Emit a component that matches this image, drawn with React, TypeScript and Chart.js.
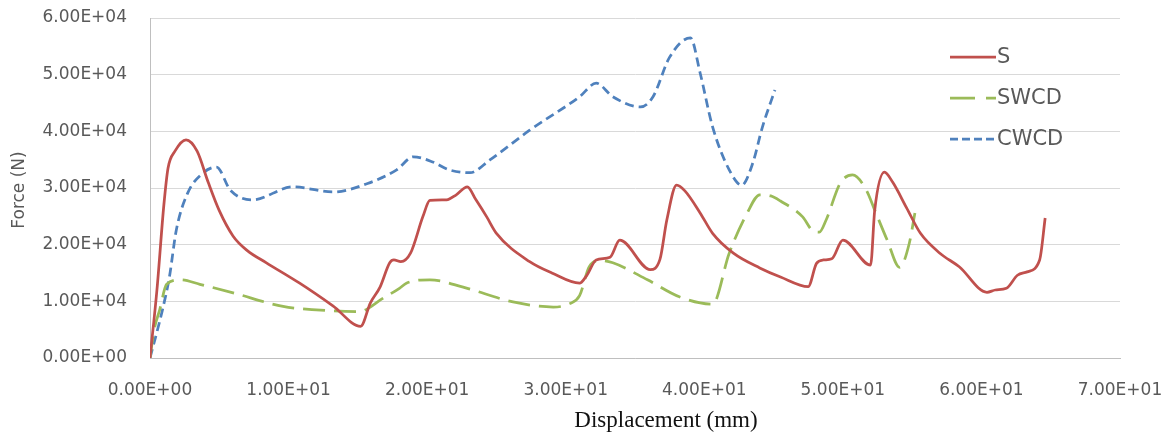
import React, { useEffect, useRef } from "react";
import { Chart, registerables } from "chart.js";

Chart.register(...registerables);

const seriesNames = ["S", "SWCD", "CWCD"];
const seriesColors = ["#C0504D", "#9BBB59", "#4F81BD"];
const seriesDashes: number[][] = [[], [22, 9], [9, 5]];

const sX = [0, 0.5, 1.0, 1.3, 1.8, 2.6, 3.4, 4.2, 5.0, 6.0, 7.0, 8.4, 10.8, 13.2, 15.2, 15.9, 16.6, 17.3, 17.6, 18.1, 18.8, 19.7, 20.2, 21.4, 22.1, 22.9, 23.5, 24.3, 25.0, 27.4, 29.0, 31.0, 31.5, 32.2, 33.2, 33.9, 36.1, 36.8, 37.3, 38.0, 38.6, 39.7, 40.6, 42.1, 44.0, 45.5, 47.5, 48.1, 48.6, 49.2, 50.0, 52.0, 52.3, 53.0, 53.6, 54.6, 55.6, 57.0, 58.4, 60.4, 61.0, 61.8, 62.6, 63.3, 64.2, 64.6];
const sY = [0, 12000, 27000, 33500, 36500, 38500, 36500, 31000, 26000, 21500, 19000, 16800, 13200, 9200, 5600, 9700, 12500, 16800, 17300, 17000, 18500, 25000, 27800, 27900, 28800, 30200, 28000, 24900, 22000, 17000, 15000, 13200, 14500, 17300, 17800, 20800, 15600, 17400, 24400, 30500, 29500, 25600, 22000, 18500, 15900, 14300, 12600, 16700, 17300, 17500, 20800, 16400, 26100, 32800, 31000, 26500, 22000, 18500, 16100, 11600, 12000, 12300, 14600, 15200, 17300, 24700];

const swcdX = [0, 0.3, 0.7, 1.2, 2.2, 3.6, 6.0, 9.6, 12.0, 15.2, 15.9, 16.6, 18.0, 18.5, 20.2, 22.6, 26.2, 29.1, 30.3, 31.0, 31.7, 32.5, 33.4, 35.9, 38.2, 40.6, 41.8, 43.1, 44.0, 44.8, 45.5, 47.1, 47.8, 48.3, 48.8, 49.8, 50.7, 51.7, 52.3, 53.2, 54.1, 54.8, 55.2];
const swcdY = [0, 5000, 8500, 13000, 13800, 13000, 11500, 9100, 8500, 8200, 9000, 10200, 12300, 13200, 13800, 12500, 9900, 9000, 9600, 11000, 16100, 17200, 16800, 13800, 10800, 9500, 18500, 25600, 28800, 28600, 27700, 24900, 22500, 22200, 24400, 30800, 32300, 29600, 26100, 20800, 16000, 20300, 25600];

const cwcdX = [0, 0.9, 1.4, 1.9, 2.7, 3.8, 4.8, 5.8, 7.4, 10.3, 13.2, 15.7, 17.8, 19.0, 20.4, 21.6, 23.1, 24.5, 27.4, 31.0, 32.2, 33.4, 35.4, 36.3, 37.5, 39.0, 39.7, 40.6, 41.8, 42.7, 43.5, 44.2, 45.1];
const cwcdY = [0, 8500, 14300, 22600, 29000, 32600, 33700, 29600, 27900, 30200, 29300, 30800, 33200, 35500, 34600, 33200, 32700, 34900, 40200, 46100, 48500, 46100, 44300, 46100, 53100, 56500, 50300, 40800, 33200, 30500, 34400, 40800, 47300];

const xTickValues = [0, 10, 20, 30, 40, 50, 60, 70];
const yTickValues = [0, 10000, 20000, 30000, 40000, 50000, 60000];

function fmtE(v: number): string {
  if (v === 0) return "0.00E+00";
  const exp = Math.floor(Math.log10(Math.abs(v)) + 1e-9);
  const m = v / Math.pow(10, exp);
  return m.toFixed(2) + "E" + (exp >= 0 ? "+" : "-") + String(Math.abs(exp)).padStart(2, "0");
}

const toPts = (xs: number[], ys: number[]) => xs.map((x, i) => ({ x, y: ys[i] }));

const decorPlugin = {
  id: "decor",
  afterDraw(chart: any) {
    const ctx = chart.ctx;
    ctx.save();
    ctx.fillStyle = "#595959";
    ctx.font = "17px 'DejaVu Sans'";
    ctx.textAlign = "center";
    ctx.textBaseline = "middle";
    ctx.translate(20, 190);
    ctx.rotate(-Math.PI / 2);
    ctx.fillText("Force (N)", 0, 0);
    ctx.restore();

    ctx.save();
    ctx.fillStyle = "#111111";
    ctx.font = "23px 'Liberation Serif'";
    ctx.textAlign = "center";
    ctx.textBaseline = "middle";
    ctx.fillText("Displacement (mm)", 666, 421);
    ctx.restore();

    const ys = [57, 98, 139];
    seriesNames.forEach((name, i) => {
      ctx.save();
      ctx.strokeStyle = seriesColors[i];
      ctx.lineWidth = 2.75;
      ctx.setLineDash(i === 1 ? [25, 11] : i === 2 ? [8, 4] : []);
      ctx.beginPath();
      ctx.moveTo(950, ys[i]);
      ctx.lineTo(996, ys[i]);
      ctx.stroke();
      ctx.setLineDash([]);
      ctx.fillStyle = "#595959";
      ctx.font = "21px 'DejaVu Sans'";
      ctx.textAlign = "left";
      ctx.textBaseline = "middle";
      ctx.fillText(name, 997, ys[i] + 1);
      ctx.restore();
    });
  },
};

export default function App() {
  const ref = useRef<HTMLCanvasElement | null>(null);
  useEffect(() => {
    document.body.style.margin = "0";
    const xs = [sX, swcdX, cwcdX];
    const yv = [sY, swcdY, cwcdY];
    const chart = new Chart(ref.current as HTMLCanvasElement, {
      type: "scatter",
      data: {
        datasets: seriesNames.map((name, i) => ({
          label: name,
          data: toPts(xs[i], yv[i]),
          showLine: true,
          borderColor: seriesColors[i],
          backgroundColor: seriesColors[i],
          borderWidth: 2.75,
          borderDash: seriesDashes[i],
          pointRadius: 0,
          cubicInterpolationMode: "monotone",
          fill: false,
        })),
      },
      options: {
        animation: false,
        responsive: true,
        maintainAspectRatio: false,
        layout: { padding: { left: 0, right: 54, top: 18, bottom: 0 } },
        plugins: { legend: { display: false }, tooltip: { enabled: false } },
        scales: {
          x: {
            type: "linear",
            min: 0,
            max: 70,
            afterBuildTicks: (s: any) => {
              s.ticks = xTickValues.map((v) => ({ value: v }));
            },
            afterFit: (s: any) => {
              s.height = 75;
              s.paddingLeft = 0;
              s.paddingRight = 0;
              s.paddingTop = 0;
              s.paddingBottom = 0;
            },
            grid: { display: false, drawTicks: false },
            border: { display: true, color: "#BFBFBF", width: 1 },
            ticks: {
              color: "#595959",
              font: { family: "'DejaVu Sans'", size: 17 },
              padding: 22,
              maxRotation: 0,
              autoSkip: false,
              callback: (v: any) => fmtE(Number(v)),
            },
          },
          y: {
            type: "linear",
            min: 0,
            max: 60000,
            afterBuildTicks: (s: any) => {
              s.ticks = yTickValues.map((v) => ({ value: v }));
            },
            afterFit: (s: any) => {
              s.width = 150;
              s.paddingLeft = 0;
              s.paddingRight = 0;
              s.paddingTop = 0;
              s.paddingBottom = 0;
            },
            grid: { color: "#D9D9D9", lineWidth: 1, drawTicks: false },
            border: { display: true, color: "#BFBFBF", width: 1 },
            ticks: {
              color: "#595959",
              font: { family: "'DejaVu Sans'", size: 17 },
              padding: 23,
              autoSkip: false,
              callback: (v: any) => fmtE(Number(v)),
            },
          },
        },
      },
      plugins: [decorPlugin],
    } as any);
    return () => chart.destroy();
  }, []);
  return (
    <div style={{ width: 1174, height: 433, position: "relative" }}>
      <canvas ref={ref} />
    </div>
  );
}
